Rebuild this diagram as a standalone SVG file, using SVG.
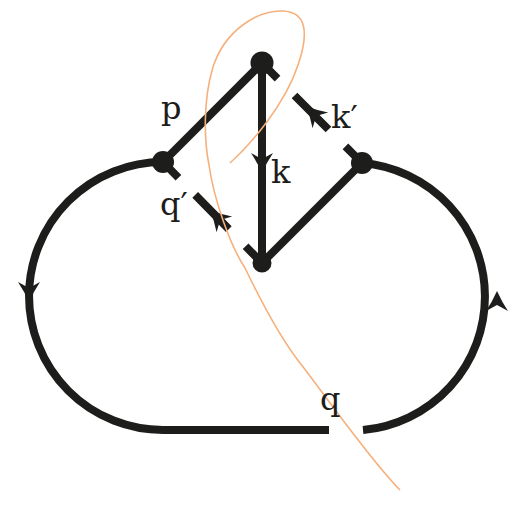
<svg xmlns="http://www.w3.org/2000/svg" width="519" height="507" viewBox="0 0 519 507">
<style>
.ln{fill:none;stroke:#1d1d1b;stroke-width:8}
.dash{fill:none;stroke:#1d1d1b;stroke-width:8;stroke-dasharray:48 24;stroke-dashoffset:26}
.nd{fill:#1d1d1b}
.ar{fill:#1d1d1b}
.lb{font-family:"DejaVu Serif","Liberation Serif",serif;font-size:32px;fill:#1d1d1b}
.cut{fill:none;stroke:#f6b07c;stroke-width:1.6}
</style>
<defs>
<path id="arr" d="M11,0 Q0,5 -9,11 L-3,0 L-9,-11 Q0,-5 11,0 Z"/>
</defs>
<rect width="519" height="507" fill="#fff"/>
<g id="connectors">
<path class="ln" d="M163,162 A134,134 0 0 0 163,430"/>
<path class="ln" d="M163,430 L329,430"/>
<path class="ln" d="M363,430 A134,134 0 0 0 362,163"/>
<path class="ln" d="M262,63 L163,162"/>
<path class="ln" d="M262,63 L262,263"/>
<path class="ln" d="M262,263 L362,163"/>
<path class="dash" d="M262,63 L362,163"/>
<path class="dash" d="M163,162 L262,263"/>
<use href="#arr" class="ar" transform="translate(262,162) rotate(90)"/>
<use href="#arr" class="ar" transform="translate(314,114) rotate(225)"/>
<use href="#arr" class="ar" transform="translate(218,218) rotate(225)"/>
<use href="#arr" class="ar" transform="translate(29,291) rotate(90)"/>
<use href="#arr" class="ar" transform="translate(497,302) rotate(-90)"/>
</g>
<g id="node-top"><circle class="nd" cx="262" cy="63" r="11.5"/></g>
<g id="node-left"><circle class="nd" cx="163" cy="162" r="11"/></g>
<g id="node-right"><circle class="nd" cx="362" cy="163" r="11"/></g>
<g id="node-bottom"><circle class="nd" cx="262" cy="263" r="9.5"/></g>
<path class="cut" d="M230,163 C250,145 285,105 298,65 C310,30 305,12 283,11 C258,10 225,30 213,67 C203,100 204,140 209,165 C214,200 230,245 245,268 C258,295 278,335 300,363 S370,460 400,490"/>
<g id="labels">
<text class="lb" x="161" y="119">p</text>
<text class="lb" x="331" y="128">k′</text>
<text class="lb" x="271" y="183">k</text>
<text class="lb" x="160" y="215">q′</text>
<text class="lb" x="320" y="410">q</text>
</g>
</svg>
